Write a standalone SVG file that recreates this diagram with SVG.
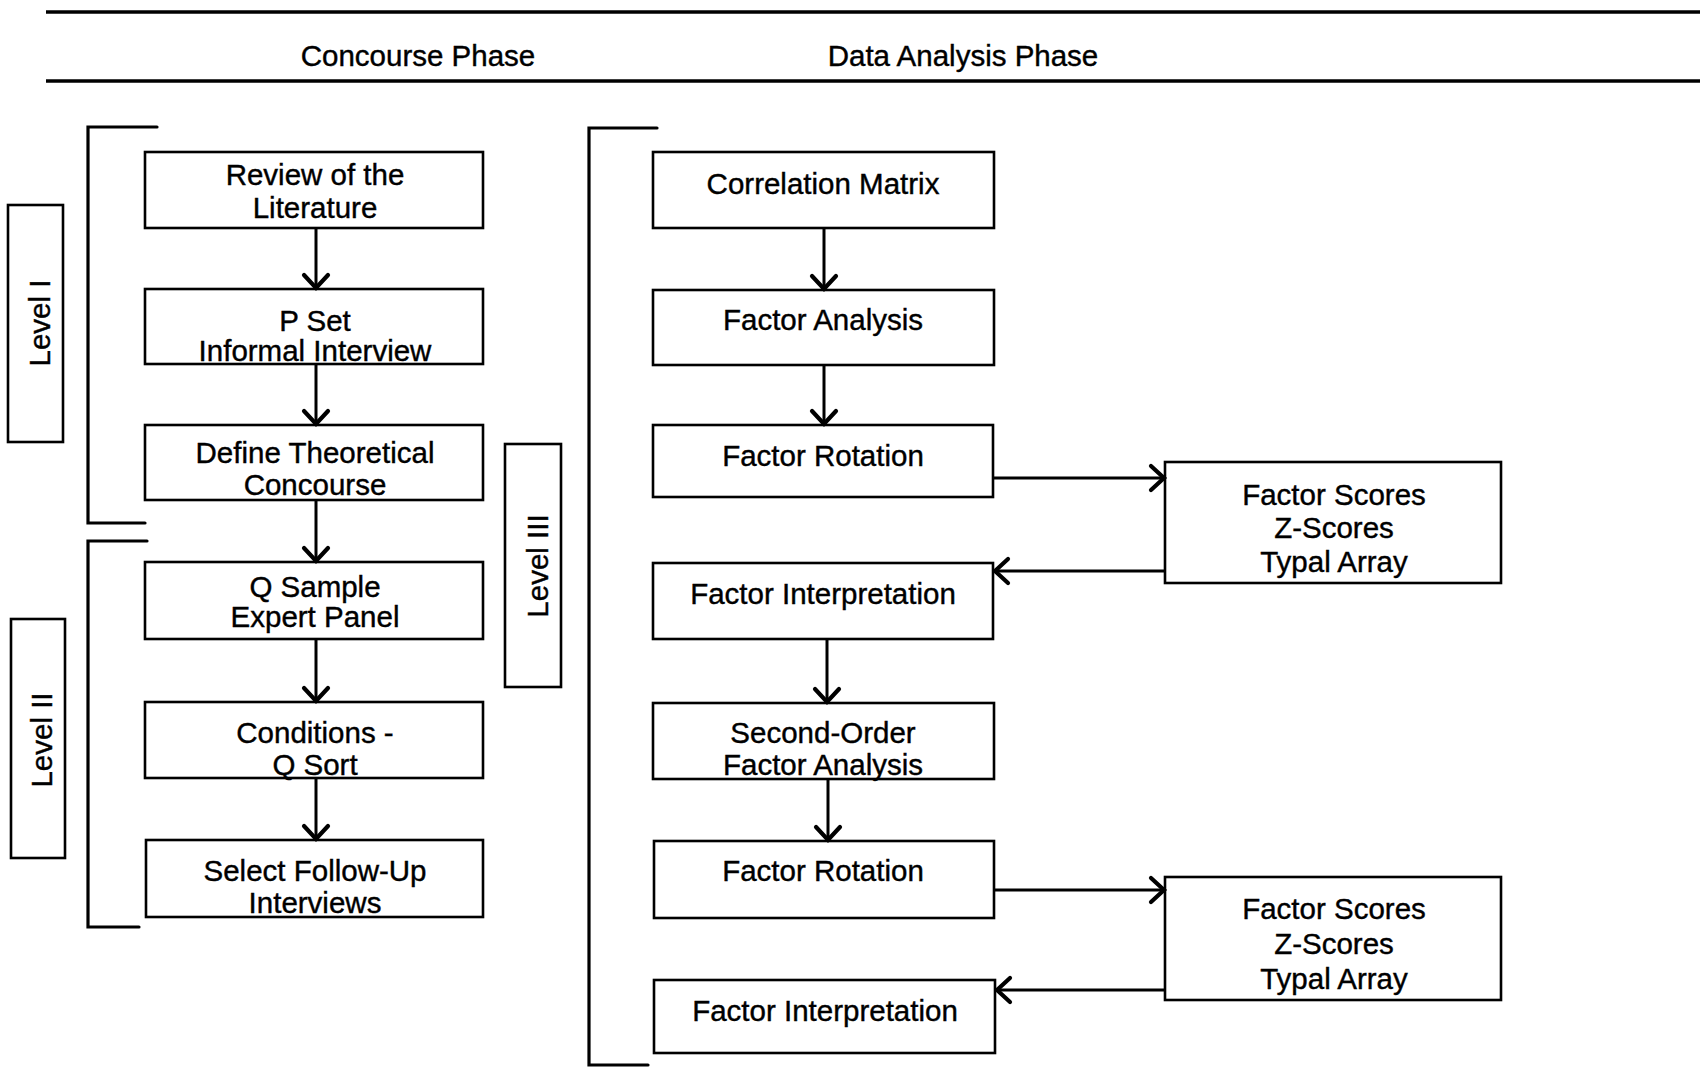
<svg xmlns="http://www.w3.org/2000/svg" width="1702" height="1067" viewBox="0 0 1702 1067">
<style>
  .box { fill: #fff; stroke: #000; stroke-width: 2.6; }
  .lbl { font-family: "Liberation Sans", Arial, Helvetica, sans-serif; font-size: 29.5px; fill: #000; stroke: #000; stroke-width: 0.4; text-anchor: middle; }
  .rule { stroke: #000; stroke-width: 3.5; fill: none; }
  .brk { stroke: #000; stroke-width: 3.2; fill: none; stroke-linecap: round; }
  .con { stroke: #000; stroke-width: 3; fill: none; }
</style>
<defs>
  <marker id="ah" markerUnits="userSpaceOnUse" viewBox="-16 -16 20 32" markerWidth="20" markerHeight="32" refX="0" refY="0" orient="auto">
    <path d="M-13,-12 L0,0 L-13,12" fill="none" stroke="#000" stroke-width="4.2" stroke-linecap="round" stroke-linejoin="miter"/>
  </marker>
</defs>
<rect width="1702" height="1067" fill="#fff"/>

<g id="header">
  <line class="rule" x1="46" y1="12" x2="1700" y2="12"/>
  <line class="rule" x1="46" y1="81" x2="1700" y2="81"/>
  <text class="lbl" x="418" y="66">Concourse Phase</text>
  <text class="lbl" x="963" y="66">Data Analysis Phase</text>
</g>

<g id="brackets">
  <path class="brk" d="M157,127 L88,127 L88,523 L145,523"/>
  <path class="brk" d="M147,541 L88,541 L88,927 L139,927"/>
  <path class="brk" d="M657,128 L589,128 L589,1065 L648,1065"/>
</g>

<g id="level1">
  <rect class="box" x="8" y="205" width="55" height="237"/>
  <text class="lbl" transform="translate(50,323) rotate(-90)">Level I</text>
</g>
<g id="level2">
  <rect class="box" x="11" y="619" width="54" height="239"/>
  <text class="lbl" transform="translate(52,740) rotate(-90)">Level II</text>
</g>
<g id="level3">
  <rect class="box" x="505" y="444" width="56" height="243"/>
  <text class="lbl" transform="translate(548,566) rotate(-90)">Level III</text>
</g>

<g id="review">
  <rect class="box" x="145" y="152" width="338" height="76"/>
  <text class="lbl" x="315" y="185">Review of the</text>
  <text class="lbl" x="315" y="218">Literature</text>
</g>
<g id="pset">
  <rect class="box" x="145" y="289" width="338" height="75"/>
  <text class="lbl" x="315" y="331">P Set</text>
  <text class="lbl" x="315" y="361">Informal Interview</text>
</g>
<g id="define">
  <rect class="box" x="145" y="425" width="338" height="75"/>
  <text class="lbl" x="315" y="463">Define Theoretical</text>
  <text class="lbl" x="315" y="495">Concourse</text>
</g>
<g id="qsample">
  <rect class="box" x="145" y="562" width="338" height="77"/>
  <text class="lbl" x="315" y="597">Q Sample</text>
  <text class="lbl" x="315" y="627">Expert Panel</text>
</g>
<g id="conditions">
  <rect class="box" x="145" y="702" width="338" height="76"/>
  <text class="lbl" x="315" y="743">Conditions -</text>
  <text class="lbl" x="315" y="775">Q Sort</text>
</g>
<g id="select">
  <rect class="box" x="146" y="840" width="337" height="77"/>
  <text class="lbl" x="315" y="881">Select Follow-Up</text>
  <text class="lbl" x="315" y="913">Interviews</text>
</g>

<g id="correlation">
  <rect class="box" x="653" y="152" width="341" height="76"/>
  <text class="lbl" x="823" y="194">Correlation Matrix</text>
</g>
<g id="factor-analysis">
  <rect class="box" x="653" y="290" width="341" height="75"/>
  <text class="lbl" x="823" y="330">Factor Analysis</text>
</g>
<g id="factor-rotation-1">
  <rect class="box" x="653" y="425" width="340" height="72"/>
  <text class="lbl" x="823" y="466">Factor Rotation</text>
</g>
<g id="factor-interpretation-1">
  <rect class="box" x="653" y="563" width="340" height="76"/>
  <text class="lbl" x="823" y="604">Factor Interpretation</text>
</g>
<g id="second-order">
  <rect class="box" x="653" y="703" width="341" height="76"/>
  <text class="lbl" x="823" y="743">Second-Order</text>
  <text class="lbl" x="823" y="775">Factor Analysis</text>
</g>
<g id="factor-rotation-2">
  <rect class="box" x="654" y="841" width="340" height="77"/>
  <text class="lbl" x="823" y="881">Factor Rotation</text>
</g>
<g id="factor-interpretation-2">
  <rect class="box" x="654" y="980" width="341" height="73"/>
  <text class="lbl" x="825" y="1021">Factor Interpretation</text>
</g>

<g id="scores-1">
  <rect class="box" x="1165" y="462" width="336" height="121"/>
  <text class="lbl" x="1334" y="505">Factor Scores</text>
  <text class="lbl" x="1334" y="538">Z-Scores</text>
  <text class="lbl" x="1334" y="572">Typal Array</text>
</g>
<g id="scores-2">
  <rect class="box" x="1165" y="877" width="336" height="123"/>
  <text class="lbl" x="1334" y="919">Factor Scores</text>
  <text class="lbl" x="1334" y="954">Z-Scores</text>
  <text class="lbl" x="1334" y="989">Typal Array</text>
</g>

<g id="connectors">
  <line class="con" x1="316" y1="228" x2="316" y2="288" marker-end="url(#ah)"/>
  <line class="con" x1="316" y1="364" x2="316" y2="424" marker-end="url(#ah)"/>
  <line class="con" x1="316" y1="500" x2="316" y2="561" marker-end="url(#ah)"/>
  <line class="con" x1="316" y1="639" x2="316" y2="701" marker-end="url(#ah)"/>
  <line class="con" x1="316" y1="778" x2="316" y2="839" marker-end="url(#ah)"/>
  <line class="con" x1="824" y1="228" x2="824" y2="289" marker-end="url(#ah)"/>
  <line class="con" x1="824" y1="365" x2="824" y2="424" marker-end="url(#ah)"/>
  <line class="con" x1="827" y1="639" x2="827" y2="702" marker-end="url(#ah)"/>
  <line class="con" x1="828" y1="779" x2="828" y2="840" marker-end="url(#ah)"/>
  <line class="con" x1="993" y1="478" x2="1164" y2="478" marker-end="url(#ah)"/>
  <line class="con" x1="1165" y1="571" x2="995" y2="571" marker-end="url(#ah)"/>
  <line class="con" x1="994" y1="890" x2="1164" y2="890" marker-end="url(#ah)"/>
  <line class="con" x1="1165" y1="990" x2="997" y2="990" marker-end="url(#ah)"/>
</g>
</svg>
